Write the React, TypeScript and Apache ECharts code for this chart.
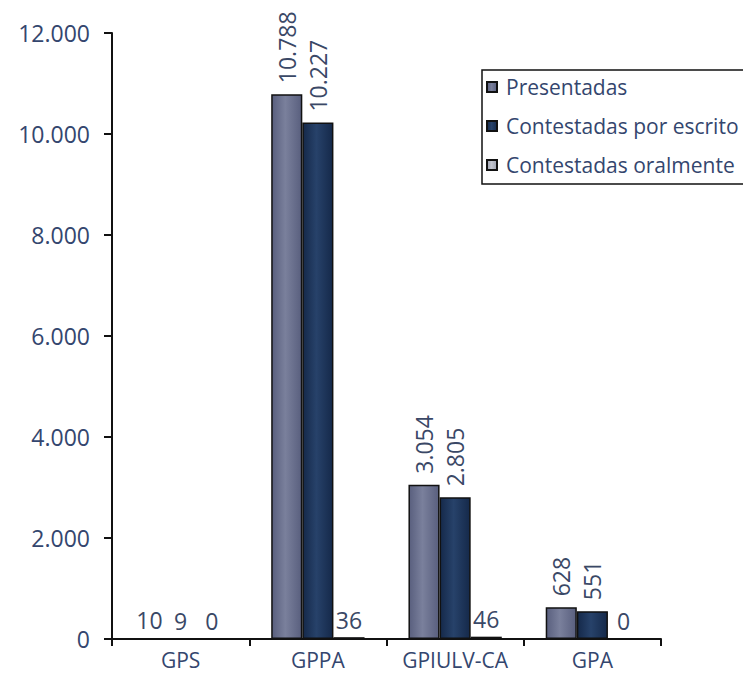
import React, { useEffect, useRef } from "react";
import * as echarts from "echarts";

const categories = ["GPS", "GPPA", "GPIULV-CA", "GPA"];
const presentadas = [10, 10788, 3054, 628];
const contestadasEscrito = [9, 10227, 2805, 551];
const contestadasOral = [0, 36, 46, 0];
const yTicks = [0, 2000, 4000, 6000, 8000, 10000, 12000];

const FONT = "'Open Sans', 'Noto Sans', sans-serif";
const AXIS_TEXT = "#34466e";
const LABEL_TEXT = "#3a4866";

const fmt = (v: number) => String(v).replace(/\B(?=(\d{3})+(?!\d))/g, ".");

function grad(edge: string, mid: string) {
  return new echarts.graphic.LinearGradient(0, 0, 1, 0, [
    { offset: 0, color: edge },
    { offset: 0.45, color: mid },
    { offset: 1, color: edge },
  ]);
}

function makeData(values: number[]) {
  return values.map((v) => {
    const big = v >= 100;
    return {
      value: v,
      label: big
        ? { rotate: 90, align: "left", verticalAlign: "middle", distance: 11 }
        : { rotate: 0, align: "center", verticalAlign: "bottom", distance: 6 },
    };
  });
}

export default function App() {
  const ref = useRef<HTMLDivElement>(null);
  useEffect(() => {
    if (!ref.current) return;
    const chart = echarts.init(ref.current, undefined, { renderer: "svg" });
    const labelBase = {
      show: true,
      position: "top",
      color: LABEL_TEXT,
      fontSize: 23,
      fontFamily: FONT,
      formatter: (p: any) => fmt(p.value),
    };
    const seriesDefs = [
      { name: "Presentadas", data: presentadas, color: grad("#595f7e", "#7a809c") },
      { name: "Contestadas por escrito", data: contestadasEscrito, color: grad("#15294a", "#27426a") },
      { name: "Contestadas oralmente", data: contestadasOral, color: grad("#9ea2b0", "#c2c5cf") },
    ];
    chart.setOption({
      animation: false,
      backgroundColor: "#ffffff",
      grid: { left: 112, right: 82, top: 33, bottom: 34, containLabel: false },
      legend: {
        orient: "vertical",
        left: 482,
        top: 70,
        backgroundColor: "#ffffff",
        borderColor: "#111111",
        borderWidth: 1.5,
        borderRadius: 0,
        padding: [6, 20, 8, 4],
        itemGap: 17,
        itemWidth: 10,
        itemHeight: 10,
        icon: "rect",
        textStyle: { color: AXIS_TEXT, fontSize: 21, fontFamily: FONT, lineHeight: 22, padding: [0, 0, 0, 4] },
        data: seriesDefs.map((s) => s.name),
      },
      xAxis: {
        type: "category",
        data: categories,
        axisLine: { lineStyle: { color: "#111111", width: 2 } },
        axisTick: { show: true, length: 7, lineStyle: { color: "#111111", width: 2 } },
        axisLabel: { color: AXIS_TEXT, fontSize: 21, fontFamily: FONT, margin: 10, interval: 0 },
      },
      yAxis: {
        type: "value",
        min: yTicks[0],
        max: yTicks[yTicks.length - 1],
        interval: 2000,
        axisLine: { show: true, lineStyle: { color: "#111111", width: 2 } },
        axisTick: { show: true, length: 8, lineStyle: { color: "#111111", width: 2 } },
        splitLine: { show: false },
        axisLabel: {
          color: AXIS_TEXT,
          fontSize: 23,
          fontFamily: FONT,
          margin: 22,
          formatter: (v: number) => fmt(v),
        },
      },
      series: seriesDefs.map((s) => ({
        name: s.name,
        type: "bar",
        data: makeData(s.data),
        barGap: "0%",
        barCategoryGap: "32%",
        itemStyle: { color: s.color, borderColor: "#111111", borderWidth: 1.5 },
        label: labelBase,
      })),
    });
    return () => chart.dispose();
  }, []);
  return <div ref={ref} style={{ width: 743, height: 673, position: "absolute", left: 0, top: 0 }} />;
}
